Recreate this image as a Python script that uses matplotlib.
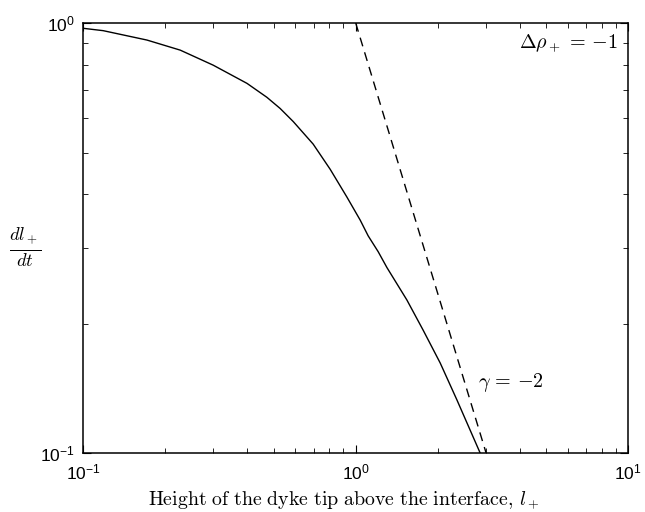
import matplotlib
matplotlib.use("Agg")
import matplotlib.pyplot as plt
from matplotlib.ticker import LogLocator, NullFormatter

# solid curve: dl+/dt against l+
l_plus = [0.1003, 0.1184, 0.1713, 0.227, 0.300, 0.399, 0.472, 0.528, 0.590,
          0.698, 0.806, 0.928, 1.039, 1.111, 1.209, 1.302, 1.541, 1.769,
          2.042, 2.351, 2.863]
rate = [0.972, 0.960, 0.913, 0.865, 0.798, 0.724, 0.672, 0.633, 0.590,
        0.523, 0.457, 0.394, 0.348, 0.320, 0.294, 0.270, 0.227, 0.193,
        0.162, 0.133, 0.1]

# reference slope gamma = -2
slope_x = [1.0, 3.01]
slope_y = [1.0, 0.1]

plt.rcParams["mathtext.fontset"] = "custom"
plt.rcParams["mathtext.rm"] = "Liberation Sans"
plt.rcParams["mathtext.it"] = "Liberation Sans:italic"
plt.rcParams["font.family"] = "Liberation Sans"

fig = plt.figure(figsize=(6.45, 5.12), dpi=100)
ax = fig.add_axes([0.129, 0.115, 0.845, 0.840])

ax.plot(l_plus, rate, color="k", lw=1.0)
ax.plot(slope_x, slope_y, color="k", lw=1.0, ls=(0, (6.5, 4.5)))

ax.set_xscale("log")
ax.set_yscale("log")
ax.set_xlim(0.1, 10)
ax.set_ylim(0.1, 1)
ax.xaxis.set_minor_locator(LogLocator(subs=range(2, 10)))
ax.yaxis.set_minor_locator(LogLocator(subs=range(2, 10)))
ax.xaxis.set_minor_formatter(NullFormatter())
ax.yaxis.set_minor_formatter(NullFormatter())
ax.tick_params(which="both", direction="in", top=True, right=True, labelsize=12.5)
ax.tick_params(axis="x", which="major", pad=7)
ax.tick_params(axis="y", which="major", pad=6)
ax.tick_params(which="major", length=6, width=0.8)
ax.tick_params(which="minor", length=3.5, width=0.6)
for s in ax.spines.values():
    s.set_linewidth(1.1)

ax.set_xlabel(r"$\mathrm{Height\ of\ the\ dyke\ tip\ above\ the\ interface,}\,l_+$",
              fontsize=14.3, math_fontfamily="cm")
ax.xaxis.set_label_coords(0.478, -0.085)
ax.set_ylabel(r"$\frac{dl_+}{dt}$", fontsize=19, math_fontfamily="cm",
              rotation=0, va="center", ha="center")
ax.yaxis.set_label_coords(-0.106, 0.479)

ax.text(0.982, 0.953, r"$\Delta\rho_+ \,=\, {-1}$", transform=ax.transAxes,
        ha="right", va="center", fontsize=14.5, math_fontfamily="cm")
ax.text(2.80, 0.146, r"$\gamma \,=\, {-2}$", ha="left", va="center",
        fontsize=14.5, math_fontfamily="cm")

fig.savefig("out.png", dpi=100)
